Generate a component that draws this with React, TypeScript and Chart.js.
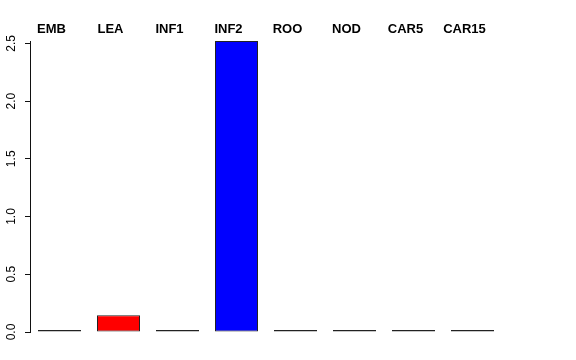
import React, { useEffect, useRef } from "react";
import { Chart, registerables } from "chart.js";

Chart.register(...registerables);

const categories = ["EMB", "LEA", "INF1", "INF2", "ROO", "NOD", "CAR5", "CAR15"];
const values = [0, 0.145, 0, 2.52, 0, 0, 0, 0];
const barColors = ["#333333", "#ff0000", "#333333", "#0000ff", "#333333", "#333333", "#333333", "#333333"];
const yMin = 0;
const yMax = 2.52;
const yStep = 0.5;

const rotatedYLabels = {
  id: "rotatedYLabels",
  afterDraw(chart: any) {
    const scale = chart.scales.y;
    const ctx = chart.ctx;
    ctx.save();
    ctx.fillStyle = "#000";
    ctx.font = "12px 'Liberation Sans', Arial, sans-serif";
    ctx.textAlign = "center";
    ctx.textBaseline = "middle";
    for (const t of scale.ticks) {
      const y = scale.getPixelForValue(t.value);
      ctx.save();
      ctx.translate(11.5, y);
      ctx.rotate(-Math.PI / 2);
      ctx.fillText(Number(t.value).toFixed(1), 0, 0);
      ctx.restore();
    }
    ctx.restore();
  },
};

export default function App() {
  const ref = useRef<HTMLCanvasElement>(null);
  useEffect(() => {
    document.body.style.margin = "0";
    const chart = new Chart(ref.current!, {
      type: "bar",
      data: {
        labels: categories,
        datasets: [
          {
            data: values,
            backgroundColor: barColors,
            borderColor: "#222",
            borderWidth: 1,
            borderSkipped: false,
            minBarLength: 2,
            categoryPercentage: 1,
            barPercentage: 0.729,
            xAxisID: "x",
          },
        ],
      },
      options: {
        responsive: false,
        animation: false,
        layout: { padding: { left: 0, right: 74, top: 0, bottom: 28 } },
        plugins: { legend: { display: false }, tooltip: { enabled: false } },
        scales: {
          x: { display: false, offset: true },
          x2: {
            type: "category",
            labels: categories,
            position: "top",
            offset: true,
            grid: { display: false, drawTicks: false },
            border: { display: false },
            ticks: {
              color: "#000",
              font: { family: "'Liberation Sans', Arial, sans-serif", size: 13, weight: "bold" },
              labelOffset: -8,
              padding: 4,
              maxRotation: 0,
              autoSkip: false,
            },
            afterFit(scale: any) {
              scale.height = 41;
            },
          },
          y: {
            min: yMin,
            max: yMax,
            grid: { drawOnChartArea: false, tickLength: 5, color: "#111" },
            border: { color: "#111", width: 1 },
            ticks: { stepSize: yStep, includeBounds: false, color: "rgba(0,0,0,0)" },
            afterFit(scale: any) {
              scale.width = 30;
            },
          },
        },
      },
      plugins: [rotatedYLabels],
    });
    return () => chart.destroy();
  }, []);
  return (
    <div style={{ position: "fixed", left: 0, top: 0, width: 576, height: 360, background: "#fff" }}>
      <canvas ref={ref} width={576} height={360} />
    </div>
  );
}
